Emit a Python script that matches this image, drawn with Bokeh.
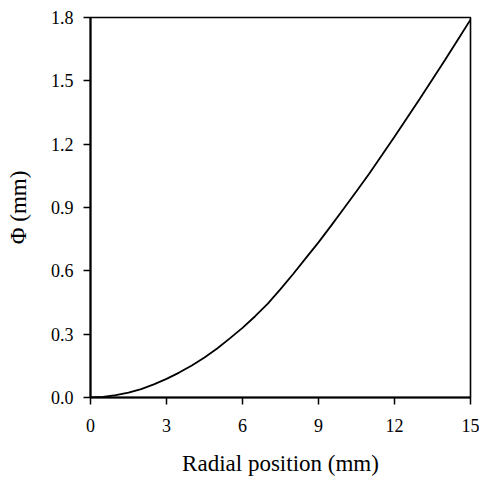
from bokeh.plotting import figure
from bokeh.models import Range1d, FixedTicker, NumeralTickFormatter
from bokeh.embed import file_html
from bokeh.resources import INLINE

# Data
radial_position = [0, 0.5, 1, 1.5, 2, 2.5, 3, 3.5, 4, 4.5, 5, 5.5, 6, 6.5, 7, 7.5,
                   8, 8.5, 9, 9.5, 10, 10.5, 11, 11.5, 12, 12.5, 13, 13.5, 14,
                   14.5, 15]
phi_mm = [0.0, 0.003, 0.011, 0.023, 0.040, 0.062, 0.088, 0.118, 0.152, 0.19,
          0.232, 0.28, 0.33, 0.385, 0.445, 0.513, 0.585, 0.66, 0.735, 0.814,
          0.895, 0.977, 1.06, 1.147, 1.235, 1.325, 1.415, 1.507, 1.60, 1.695,
          1.79]

x_ticks = [0, 3, 6, 9, 12, 15]
y_ticks = [0.0, 0.3, 0.6, 0.9, 1.2, 1.5, 1.8]

FONT = "Liberation Serif"

p = figure(width=479, height=484, output_backend="svg", toolbar_location=None,
           x_range=Range1d(0, 15), y_range=Range1d(0, 1.8),
           min_border_left=90, min_border_right=9, min_border_top=17,
           min_border_bottom=87)

p.line(radial_position, phi_mm, line_color="black", line_width=1.8)

p.grid.visible = False
p.outline_line_color = "black"
p.outline_line_width = 1.6
p.outline_line_alpha = 1.0

p.xaxis.ticker = FixedTicker(ticks=x_ticks)
p.yaxis.ticker = FixedTicker(ticks=y_ticks)
p.yaxis.formatter = NumeralTickFormatter(format="0.0")

for ax in (p.xaxis, p.yaxis):
    ax.axis_line_color = "black"
    ax.axis_line_width = 2
    ax.major_tick_line_color = "black"
    ax.major_tick_line_width = 1.5
    ax.major_tick_out = 7
    ax.major_tick_in = 0
    ax.minor_tick_line_color = None
    ax.major_label_text_font = FONT
    ax.major_label_text_font_size = "18px"
    ax.major_label_text_color = "black"
    ax.axis_label_text_font = FONT
    ax.axis_label_text_font_size = "23px"
    ax.axis_label_text_font_style = "normal"
    ax.axis_label_text_color = "black"

p.xaxis.major_label_standoff = 14
p.yaxis.major_label_standoff = 10
p.xaxis.axis_label = "Radial position (mm)"
p.yaxis.axis_label = "Φ (mm)"
p.xaxis.axis_label_standoff = 16
p.yaxis.axis_label_standoff = 17

open("out.html", "w").write(file_html(p, INLINE))
